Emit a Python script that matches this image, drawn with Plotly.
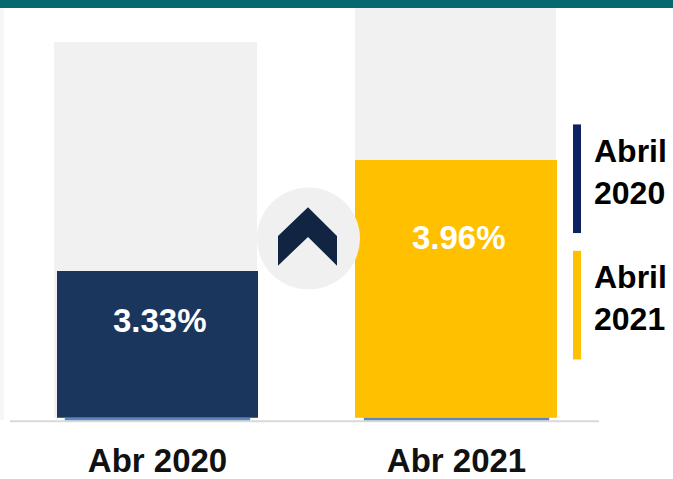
import plotly.graph_objects as go

# ---- data ----
categorias = ["Abr 2020", "Abr 2021"]
valores = [3.33, 3.96]
fondo = [8.52, 7.00]           # light-grey background bars (same scale as each bar)
escala_max = [9.28, 6.30]      # independent axis maximum for each bar
etiquetas_leyenda = ["Abril<br>2020", "Abril<br>2021"]
colores = ["#1B365D", "#FFC000"]
colores_leyenda = ["#0B2263", "#FFC000"]

W, H = 673, 479
DY = 2
def px(x):
    return x / W
def py(y):
    return 1 - (y + DY) / H

PLOT_TOP, PLOT_BOT = 6, 421
X_LEFT, X_RIGHT = 8, 606
FONT = "Liberation Sans, Arial"

fig = go.Figure()

# background bars
fig.add_trace(go.Bar(x=[categorias[0]], y=[fondo[0]], yaxis="y", marker=dict(color="#F1F1F1", line=dict(width=0)),
                     width=0.679, offset=-0.346, hoverinfo="skip", showlegend=False))
fig.add_trace(go.Bar(x=[categorias[1]], y=[fondo[1]], yaxis="y2", marker=dict(color="#F1F1F1", line=dict(width=0)),
                     width=0.672, offset=-0.339, hoverinfo="skip", showlegend=False))
# value bars
fig.add_trace(go.Bar(x=[categorias[0]], y=[valores[0]], yaxis="y", marker=dict(color=colores[0], line=dict(width=0)),
                     width=0.672, offset=-0.336, showlegend=False))
fig.add_trace(go.Bar(x=[categorias[1]], y=[valores[1]], yaxis="y2", marker=dict(color=colores[1], line=dict(width=0)),
                     width=0.676, offset=-0.339, showlegend=False))

shapes = []
# top teal band
shapes.append(dict(type="rect", xref="paper", yref="paper", x0=0, x1=1, y0=py(6), y1=1,
                   fillcolor="#07696E", line=dict(width=0), layer="above"))
# left edge strip
shapes.append(dict(type="rect", xref="paper", yref="paper", x0=0, x1=px(4), y0=py(423), y1=py(6),
                   fillcolor="#F6F6F6", line=dict(width=0), layer="below"))
# light blue strips under bars
for i in range(2):
    shapes.append(dict(type="rect", xref="x", yref="paper", x0=i - 0.31, x1=i + 0.31,
                       y0=py(424), y1=py(421), fillcolor="#5B86C0", line=dict(width=0), layer="above"))
# baseline
shapes.append(dict(type="line", xref="paper", yref="paper", x0=px(10), x1=px(599), y0=py(424.5), y1=py(424.5),
                   line=dict(color="#D9D9D9", width=2), layer="above"))
# centre circle
shapes.append(dict(type="circle", xref="paper", yref="paper", x0=px(257), x1=px(360), y0=py(291), y1=py(188),
                   fillcolor="#F0F0F0", line=dict(width=0), layer="above"))
# chevron
pts = [(308, 208), (337, 237), (337, 267), (308, 238), (278, 267), (278, 237)]
path = "M " + " L ".join(f"{px(a):.5f},{py(b):.5f}" for a, b in pts) + " Z"
shapes.append(dict(type="path", xref="paper", yref="paper", path=path,
                   fillcolor="#112542", line=dict(width=0), layer="above"))
# legend lines
for (y0, y1), c in zip([(124, 234), (252, 362)], colores_leyenda):
    shapes.append(dict(type="rect", xref="paper", yref="paper", x0=px(573), x1=px(581), y0=py(y1), y1=py(y0),
                       fillcolor=c, line=dict(width=0), layer="above"))

annotations = []
frac = [0.66, 0.70]
for i, yref in enumerate(["y", "y2"]):
    annotations.append(dict(x=categorias[i], y=valores[i] * frac[i], xref="x", yref=yref,
                            text=f"<b>{valores[i]:.2f}%</b>", showarrow=False,
                            font=dict(family=FONT, size=33, color="white"),
                            xshift=2))
for lab, yc in zip(etiquetas_leyenda, [172, 300]):
    annotations.append(dict(x=px(592), y=py(yc), xref="paper", yref="paper", xanchor="left", yanchor="middle",
                            text=f"<b>{lab}</b>", showarrow=False, align="left",
                            font=dict(family=FONT, size=32, color="#000000")))

fig.update_layout(
    width=W, height=H,
    margin=dict(l=0, r=0, t=0, b=0),
    paper_bgcolor="white", plot_bgcolor="rgba(0,0,0,0)",
    barmode="overlay", bargap=0,
    showlegend=False,
    xaxis=dict(domain=[px(X_LEFT), px(X_RIGHT)], range=[-0.5, 1.5], type="category",
               categoryorder="array", categoryarray=categorias,
               showgrid=False, zeroline=False, showline=False, ticks="",
               tickfont=dict(family=FONT, size=33, color="#111111", weight="bold"),
               ticklabelstandoff=20),
    yaxis=dict(domain=[py(PLOT_BOT), py(PLOT_TOP)], range=[0, escala_max[0]], visible=False, fixedrange=True),
    yaxis2=dict(domain=[py(PLOT_BOT), py(PLOT_TOP)], range=[0, escala_max[1]], overlaying="y", visible=False),
    shapes=shapes,
    annotations=annotations,
)

fig.write_html("out.html", config={"displayModeBar": False},
               post_script="document.body.style.margin='0';document.body.style.padding='0';")
